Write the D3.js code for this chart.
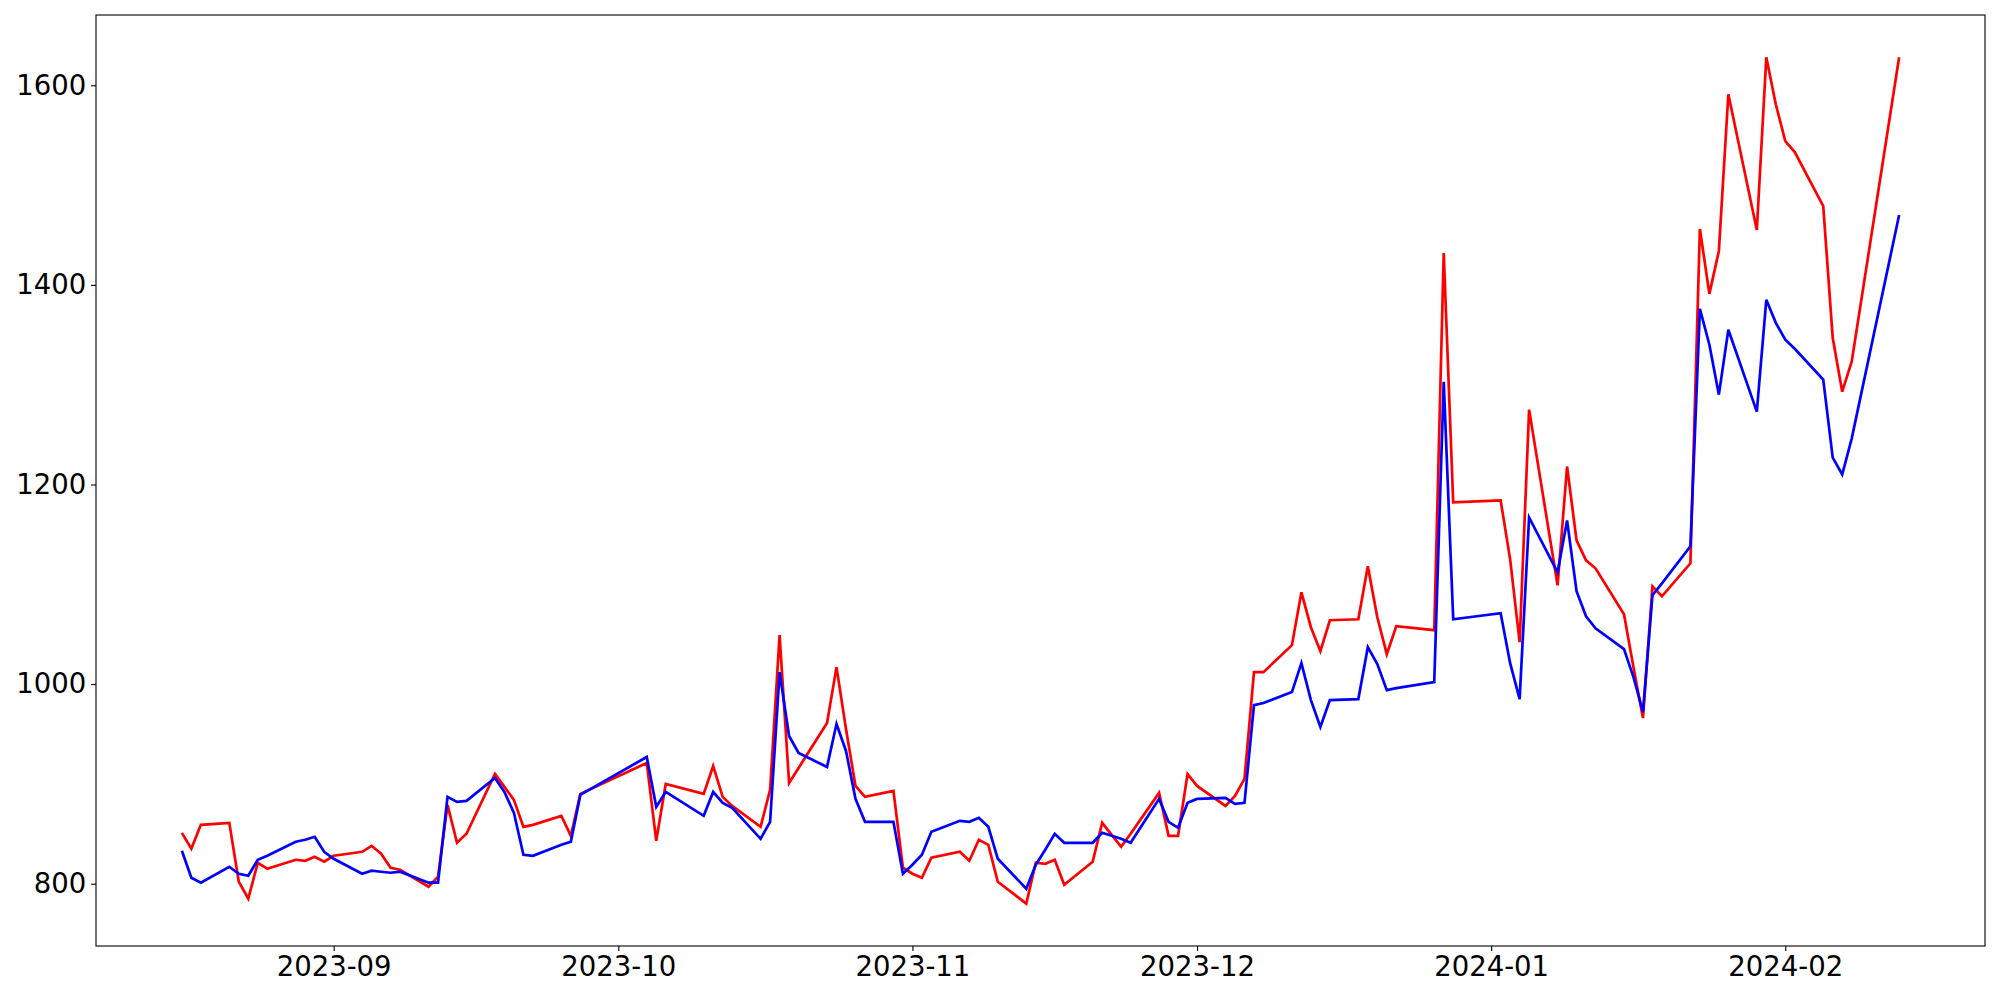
<!DOCTYPE html>
<html>
<head>
<meta charset="utf-8">
<script src="https://cdn.jsdelivr.net/npm/d3@7"></script>
<style>
  html, body { margin: 0; padding: 0; background: #ffffff; }
  svg { display: block; }
  .tick text { font-family: "DejaVu Sans", sans-serif; }
</style>
</head>
<body>
<svg id="chart" width="2000" height="1000"></svg>
<script>
// ---- data ----
const dates = [
  "2023-08-16","2023-08-17","2023-08-18","2023-08-21","2023-08-22","2023-08-23","2023-08-24","2023-08-25",
  "2023-08-28","2023-08-29","2023-08-30","2023-08-31","2023-09-01",
  "2023-09-04","2023-09-05","2023-09-06","2023-09-07","2023-09-08",
  "2023-09-11","2023-09-12","2023-09-13","2023-09-14","2023-09-15",
  "2023-09-18","2023-09-19","2023-09-20","2023-09-21","2023-09-22",
  "2023-09-25","2023-09-26","2023-09-27",
  "2023-10-04","2023-10-05","2023-10-06",
  "2023-10-10","2023-10-11","2023-10-12","2023-10-13",
  "2023-10-16","2023-10-17","2023-10-18","2023-10-19","2023-10-20",
  "2023-10-23","2023-10-24","2023-10-25","2023-10-26","2023-10-27",
  "2023-10-30","2023-10-31","2023-11-01","2023-11-02","2023-11-03",
  "2023-11-06","2023-11-07","2023-11-08","2023-11-09","2023-11-10",
  "2023-11-13","2023-11-14","2023-11-15","2023-11-16","2023-11-17",
  "2023-11-20","2023-11-21","2023-11-22","2023-11-23","2023-11-24",
  "2023-11-27","2023-11-28","2023-11-29","2023-11-30","2023-12-01",
  "2023-12-04","2023-12-05","2023-12-06","2023-12-07","2023-12-08",
  "2023-12-11","2023-12-12","2023-12-13","2023-12-14","2023-12-15",
  "2023-12-18","2023-12-19","2023-12-20","2023-12-21","2023-12-22",
  "2023-12-26","2023-12-27","2023-12-28",
  "2024-01-02","2024-01-03","2024-01-04","2024-01-05",
  "2024-01-08","2024-01-09","2024-01-10","2024-01-11","2024-01-12",
  "2024-01-15","2024-01-16","2024-01-17","2024-01-18","2024-01-19",
  "2024-01-22","2024-01-23","2024-01-24","2024-01-25","2024-01-26",
  "2024-01-29","2024-01-30","2024-01-31","2024-02-01","2024-02-02",
  "2024-02-05","2024-02-06","2024-02-07","2024-02-08",
  "2024-02-13"
];

const redValues = [
  851, 835, 859, 861, 802, 785, 821, 815,
  824, 823, 827, 822, 828,
  832, 838, 830, 816, 814,
  797, 807, 879, 841, 850,
  910, 897, 884, 857, 859,
  868, 848, 890,
  921, 843, 900,
  890, 918, 887, 878,
  857, 894, 1049, 901, 916,
  961, 1017, 955, 898, 887,
  893, 816, 810, 806, 826,
  832, 823, 844, 839, 802,
  780, 821, 820, 824, 799,
  822, 861, 849, 837, 850,
  891, 848, 848, 910, 898,
  878, 888, 905, 1012, 1012,
  1039, 1092, 1057, 1033, 1064,
  1065, 1118, 1067, 1030, 1058,
  1054, 1432, 1182,
  1184, 1125, 1042, 1275,
  1099, 1218, 1144, 1124, 1116,
  1070, 1017, 966, 1098, 1088,
  1121, 1456, 1391, 1434, 1591,
  1455, 1628, 1581, 1544, 1533,
  1479, 1347, 1293, 1323,
  1628
];

const blueValues = [
  833, 806, 801, 817, 810, 808, 824, 828,
  842, 844, 847, 832, 825,
  810, 813, 812, 811, 812,
  801, 801, 887, 882, 883,
  906, 892, 871, 829, 828,
  839, 842, 889,
  927, 877, 892,
  868, 892, 881, 876,
  845, 862, 1012, 948, 931,
  917, 960, 933, 885, 862,
  862, 810, 819, 829, 852,
  863, 862, 866, 857, 825,
  795, 819, 834, 850, 841,
  841, 851, 848, 845, 841,
  885, 862, 856, 881, 885,
  886, 880, 881, 979, 981,
  992, 1021, 984, 957, 984,
  985, 1037, 1020, 994, 996,
  1002, 1303, 1065,
  1071, 1021, 985, 1167,
  1112, 1164, 1093, 1068, 1056,
  1035, 1007, 972, 1089, 1101,
  1138, 1376, 1340, 1290, 1355,
  1273, 1385, 1362, 1345, 1336,
  1305, 1227, 1210, 1246,
  1470
];

const yTickValues = [800, 1000, 1200, 1400, 1600];
const xTickFormat = "%Y-%m";

// ---- layout ----
const W = 2000, H = 1000;
const margin = { left: 96, right: 15, top: 15, bottom: 54 };
const plotW = W - margin.left - margin.right;
const plotH = H - margin.top - margin.bottom;

const parse = d3.utcParse("%Y-%m-%d");
const xDates = dates.map(parse);

const svg = d3.select("#chart");
const g = svg.append("g").attr("transform", `translate(${margin.left},${margin.top})`);

// matplotlib-style 5% margins
const xExt = d3.extent(xDates);
const xPad = (xExt[1] - xExt[0]) * 0.05;
const x = d3.scaleUtc()
  .domain([new Date(+xExt[0] - xPad), new Date(+xExt[1] + xPad)])
  .range([0, plotW]);

const allVals = redValues.concat(blueValues);
const yExt = d3.extent(allVals);
const yPad = (yExt[1] - yExt[0]) * 0.05;
const y = d3.scaleLinear()
  .domain([yExt[0] - yPad, yExt[1] + yPad])
  .range([plotH, 0]);

const series = [
  { name: "red", color: "#ff0000", values: redValues },
  { name: "blue", color: "#0000ff", values: blueValues }
];

const line = d3.line()
  .x(d => x(d[0]))
  .y(d => y(d[1]));

g.append("defs").append("clipPath").attr("id", "clip")
  .append("rect").attr("width", plotW).attr("height", plotH);

const lines = g.append("g").attr("clip-path", "url(#clip)");
series.forEach(s => {
  const pts = xDates.map((d, i) => [d, s.values[i]]);
  lines.append("path")
    .datum(pts)
    .attr("fill", "none")
    .attr("stroke", s.color)
    .attr("stroke-width", 2.7)
    .attr("stroke-linejoin", "miter")
    .attr("stroke-linecap", "butt")
    .attr("d", line);
});

// axes
const xAxis = d3.axisBottom(x)
  .ticks(d3.utcMonth.every(1))
  .tickFormat(d3.utcFormat(xTickFormat))
  .tickSizeInner(4.9).tickSizeOuter(0).tickPadding(4.9);
const yAxis = d3.axisLeft(y)
  .tickValues(yTickValues)
  .tickFormat(d3.format("d"))
  .tickSizeInner(4.9).tickSizeOuter(0).tickPadding(4.9);

const gx = g.append("g").attr("transform", `translate(0,${plotH})`).call(xAxis);
const gy = g.append("g").call(yAxis);

[gx, gy].forEach(ax => {
  ax.select(".domain").remove();
  ax.selectAll(".tick line").attr("stroke", "#000").attr("stroke-width", 1.1);
  ax.selectAll(".tick text")
    .attr("fill", "#000")
    .style("font-size", "27.5px")
    .style("font-family", "'DejaVu Sans', sans-serif");
});
gx.selectAll(".tick text").attr("dy", "0.75em");

// frame (spines)
g.append("rect")
  .attr("x", 0).attr("y", 0)
  .attr("width", plotW).attr("height", plotH)
  .attr("fill", "none")
  .attr("stroke", "#000")
  .attr("stroke-width", 1.1);
</script>
</body>
</html>
